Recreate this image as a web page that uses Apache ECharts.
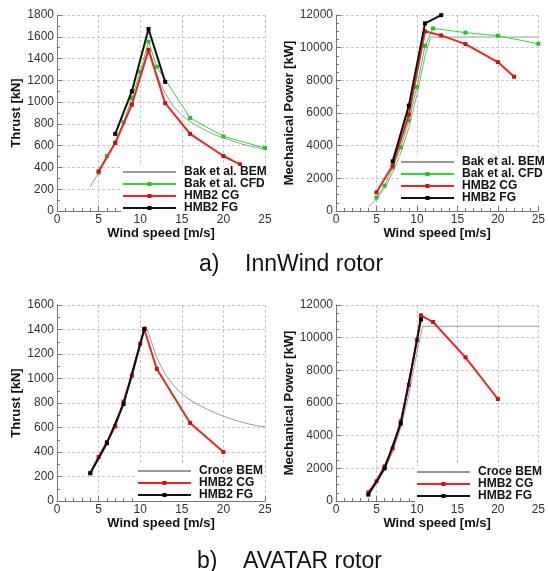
<!DOCTYPE html>
<html>
<head>
<meta charset="utf-8">
<script src="https://cdn.jsdelivr.net/npm/echarts@6/dist/echarts.min.js"></script>
<style>
  html, body { margin: 0; padding: 0; background: #fff; }
  #chart { width: 548px; height: 571px; }
</style>
</head>
<body>
<div id="chart"></div>
<script>
// InnWind rotor - thrust [kN]
let innBemWind = [4, 5, 6, 7, 8, 9, 10, 11, 12, 13, 14, 15, 16, 17, 18, 19, 20, 21, 22, 23, 24, 25]
let innBemThrust = [225, 350, 490, 640, 800, 990, 1220, 1500, 1250, 1080, 960, 880, 820, 775, 735, 700, 670, 645, 620, 600, 583, 565]
let innCfdWind = [5, 6, 7, 8, 9, 10, 11, 12, 16, 20, 25]
let innCfdThrust = [352, 505, 630, 815, 1040, 1280, 1555, 1325, 855, 685, 578]
let innCgWind = [5, 7, 9, 11, 13, 16, 20, 22]
let innCgThrust = [364, 624, 976, 1480, 990, 708, 505, 428]
let innFgWind = [7, 9, 11, 13]
let innFgThrust = [708, 1100, 1672, 1186]

// InnWind rotor - mechanical power [kW]
let innBemPowWind = [4, 5, 6, 7, 8, 9, 10, 11, 11.7, 15, 20, 25]
let innBemPower = [250, 720, 1400, 2350, 3550, 5100, 7100, 9500, 10650, 10650, 10650, 10650]
let innCfdPower = [816, 1550, 2650, 3900, 5550, 7600, 10120, 11180, 10920, 10730, 10240]
let innCgPower = [1140, 2780, 5900, 11000, 10750, 10220, 9120, 8220]
let innFgPower = [3040, 6450, 11490, 11990]

// AVATAR rotor - thrust [kN]
let avaBemWind = [4, 5, 6, 7, 8, 9, 10, 10.6, 11, 12, 13, 14, 15, 16, 17, 18, 19, 20, 21, 22, 23, 24, 25]
let avaBemThrust = [225, 345, 465, 610, 790, 1010, 1270, 1430, 1370, 1170, 1035, 945, 875, 825, 785, 750, 720, 692, 668, 648, 630, 615, 605]
let avaCgWind = [4, 5, 6, 7, 8, 9, 10, 10.5, 12, 16, 20]
let avaCgThrust = [229, 359, 482, 610, 811, 1023, 1284, 1400, 1078, 637, 400]
let avaFgWind = [4, 6, 8, 10.5]
let avaFgThrust = [226, 472, 792, 1405]

// AVATAR rotor - mechanical power [kW]
let avaBemPowWind = [4, 5, 6, 7, 8, 9, 10, 10.7, 15, 20, 25]
let avaBemPower = [380, 1050, 1900, 3000, 4500, 6500, 9100, 10700, 10700, 10700, 10700]
let avaCgPower = [530, 1204, 2122, 3224, 4878, 7102, 9857, 11367, 10959, 8796, 6245]
let avaFgPower = [390, 2000, 4735, 11120]

const FONT = 'Liberation Sans, Arial, Helvetica, sans-serif'

function pairs (xs, ys) {
  return xs.map(function (x, i) { return [x, ys[i]] })
}

let grids = [
  { left: 57, top: 15, width: 208, height: 196 },
  { left: 336, top: 15, width: 207, height: 196 },
  { left: 57, top: 305, width: 208, height: 196 },
  { left: 336, top: 305, width: 207, height: 196 }
]

function xAxisOf (idx) {
  return {
    gridIndex: idx,
    type: 'value',
    min: 0,
    max: 25,
    interval: 5,
    name: 'Wind speed [m/s]',
    nameLocation: 'middle',
    nameGap: 12,
    nameTextStyle: { fontFamily: FONT, fontWeight: 'bold', fontSize: 13, color: '#111' },
    axisLine: { show: true, lineStyle: { color: '#777', width: 1 } },
    axisTick: { show: true, inside: true, length: 5, lineStyle: { color: '#777' } },
    minorTick: { show: true, splitNumber: 5, length: 3, lineStyle: { color: '#777' } },
    axisLabel: { fontFamily: FONT, fontSize: 12, color: '#333', margin: 3 },
    splitLine: { show: true, lineStyle: { color: '#c8c8c8', type: [3, 2] } }
  }
}

function yAxisOf (idx, name, max, interval, minorSplit, gap) {
  return {
    gridIndex: idx,
    type: 'value',
    min: 0,
    max: max,
    interval: interval,
    name: name,
    nameLocation: 'middle',
    nameGap: gap,
    nameTextStyle: { fontFamily: FONT, fontWeight: 'bold', fontSize: 13, color: '#111' },
    axisLine: { show: true, lineStyle: { color: '#777', width: 1 } },
    axisTick: { show: true, inside: true, length: 5, lineStyle: { color: '#777' } },
    minorTick: { show: true, splitNumber: minorSplit, length: 3, lineStyle: { color: '#777' } },
    axisLabel: {
      fontFamily: FONT, fontSize: 12, color: '#333', margin: 3,
      formatter: function (v) { return String(v) }
    },
    splitLine: { show: true, lineStyle: { color: '#c8c8c8', type: [3, 2] } }
  }
}

function bem (name, idx, data) {
  return {
    name: name, type: 'line', xAxisIndex: idx, yAxisIndex: idx,
    data: data, showSymbol: false, symbol: 'none',
    lineStyle: { color: '#999', width: 1 }, itemStyle: { color: '#999' },
    z: 1
  }
}
function cfd (idx, data) {
  return {
    name: 'Bak et al. CFD', type: 'line', xAxisIndex: idx, yAxisIndex: idx,
    data: data, symbol: 'rect', symbolSize: 4,
    lineStyle: { color: '#33d633', width: 1 }, itemStyle: { color: '#22c322' },
    z: 2
  }
}
function cg (idx, data) {
  return {
    name: 'HMB2 CG', type: 'line', xAxisIndex: idx, yAxisIndex: idx,
    data: data, symbol: 'rect', symbolSize: 4,
    lineStyle: { color: '#e8262a', width: 2 }, itemStyle: { color: '#cc1111' },
    z: 3
  }
}
function fg (idx, data) {
  return {
    name: 'HMB2 FG', type: 'line', xAxisIndex: idx, yAxisIndex: idx,
    data: data, symbol: 'rect', symbolSize: 4,
    lineStyle: { color: '#111', width: 2 }, itemStyle: { color: '#000' },
    z: 4
  }
}

function legendOf (names, left, top) {
  return {
    orient: 'vertical', left: left, top: top,
    data: names.map(function (n) {
      // BEM curves are drawn without markers
      return n.indexOf('BEM') >= 0 ? { name: n, itemStyle: { opacity: 0 } } : n
    }),
    itemWidth: 53, itemHeight: 5, itemGap: 0,
    padding: [0, 1], backgroundColor: '#fff',
    selectedMode: false,
    textStyle: { fontFamily: FONT, fontWeight: 'bold', fontSize: 12, color: '#111', lineHeight: 11.7, padding: [0, 0, 0, 3] }
  }
}

let captionStyle = { fontFamily: FONT, fontWeight: 'normal', fontSize: 23, color: '#111' }

let option = {
  animation: false,
  title: [
    { text: 'a)    InnWind rotor', left: 194, top: 248, textStyle: captionStyle },
    { text: 'b)    AVATAR rotor', left: 192, top: 545, textStyle: captionStyle }
  ],
  grid: grids,
  xAxis: [xAxisOf(0), xAxisOf(1), xAxisOf(2), xAxisOf(3)],
  yAxis: [
    yAxisOf(0, 'Thrust [kN]', 1800, 200, 2, 26),
    yAxisOf(1, 'Mechanical Power [kW]', 12000, 2000, 4, 24),
    yAxisOf(2, 'Thrust [kN]', 1600, 200, 2, 26),
    yAxisOf(3, 'Mechanical Power [kW]', 12000, 2000, 4, 24)
  ],
  legend: [
    legendOf(['Bak et al. BEM', 'Bak et al. CFD', 'HMB2 CG', 'HMB2 FG'], 121, 166),
    legendOf(['Bak et al. BEM', 'Bak et al. CFD', 'HMB2 CG', 'HMB2 FG'], 399, 156),
    legendOf(['Croce BEM', 'HMB2 CG', 'HMB2 FG'], 136, 465),
    legendOf(['Croce BEM', 'HMB2 CG', 'HMB2 FG'], 415, 466)
  ],
  series: [
    bem('Bak et al. BEM', 0, pairs(innBemWind, innBemThrust)),
    cfd(0, pairs(innCfdWind, innCfdThrust)),
    cg(0, pairs(innCgWind, innCgThrust)),
    fg(0, pairs(innFgWind, innFgThrust)),

    bem('Bak et al. BEM', 1, pairs(innBemPowWind, innBemPower)),
    cfd(1, pairs(innCfdWind, innCfdPower)),
    cg(1, pairs(innCgWind, innCgPower)),
    fg(1, pairs(innFgWind, innFgPower)),

    bem('Croce BEM', 2, pairs(avaBemWind, avaBemThrust)),
    cg(2, pairs(avaCgWind, avaCgThrust)),
    fg(2, pairs(avaFgWind, avaFgThrust)),

    bem('Croce BEM', 3, pairs(avaBemPowWind, avaBemPower)),
    cg(3, pairs(avaCgWind, avaCgPower)),
    fg(3, pairs(avaFgWind, avaFgPower))
  ]
}

let myChart = echarts.init(document.getElementById('chart'))
myChart.setOption(option, true)
</script>
</body>
</html>
